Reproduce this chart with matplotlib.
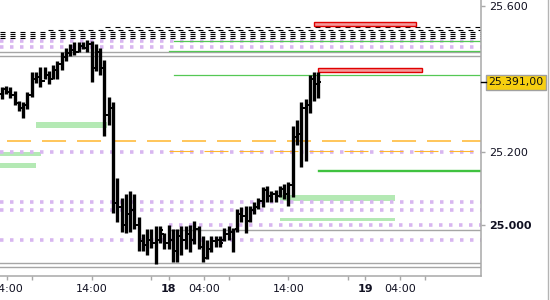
import numpy as np
import matplotlib
matplotlib.use("Agg")
import matplotlib.pyplot as plt
from matplotlib.lines import Line2D

plt.rcParams['lines.scale_dashes'] = False
plt.rcParams['font.family'] = 'DejaVu Sans'

# OHLC bars (bar index = position along the time axis)
highs = [25379, 25382, 25377, 25366, 25341, 25336, 25363, 25418, 25418, 25432,
         25432, 25421, 25437, 25448, 25473, 25486, 25495, 25500, 25500, 25500,
         25508, 25503, 25495, 25486, 25453, 25352, 25338, 25130, 25075, 25084,
         25092, 25084, 25023, 24974, 24988, 24988, 24996, 24996, 24979, 25001,
         24988, 24988, 24996, 24996, 25001, 25012, 24996, 24969, 24960, 24971,
         24971, 24971, 24993, 24996, 24993, 25045, 25048, 25051, 25051, 25062,
         25075, 25103, 25106, 25092, 25097, 25108, 25111, 25119, 25270, 25289,
         25336, 25344, 25412, 25418, 25418]
lows = [25344, 25358, 25349, 25330, 25311, 25292, 25317, 25352, 25390, 25379,
        25399, 25385, 25399, 25399, 25426, 25448, 25462, 25467, 25473, 25481,
        25473, 25393, 25421, 25412, 25245, 25275, 25034, 25007, 24982, 24979,
        24982, 24988, 24930, 24930, 24919, 24938, 24892, 24952, 24933, 24933,
        24900, 24900, 24919, 24933, 24927, 24947, 24933, 24900, 24906, 24927,
        24941, 24941, 24955, 24960, 24927, 24982, 25007, 24979, 25007, 25029,
        25043, 25048, 25062, 25064, 25062, 25078, 25070, 25051, 25078, 25218,
        25160, 25174, 25308, 25341, 25349]
opens = [25360, 25372, 25365, 25355, 25335, 25320, 25330, 25355, 25400, 25405,
         25395, 25410, 25400, 25425, 25440, 25460, 25470, 25480, 25475, 25490,
         25485, 25495, 25430, 25475, 25430, 25300, 25320, 25060, 25050, 25000,
         25030, 25040, 25000, 24955, 24945, 24960, 24950, 24960, 24975, 24950,
         24960, 24930, 24970, 24960, 24975, 24960, 24990, 24940, 24910, 24935,
         24955, 24960, 24960, 24975, 24980, 24990, 25030, 25025, 25010, 25040,
         25050, 25065, 25095, 25080, 25085, 25080, 25100, 25085, 25110, 25240,
         25250, 25320, 25330, 25400, 25385]
closes = [25372, 25365, 25355, 25335, 25320, 25330, 25355, 25400, 25405, 25395,
          25410, 25400, 25425, 25440, 25460, 25470, 25480, 25475, 25490, 25485,
          25495, 25420, 25475, 25430, 25300, 25320, 25060, 25050, 25000, 25030,
          25040, 25000, 24955, 24945, 24960, 24950, 24900, 24985, 24950, 24960,
          24930, 24970, 24960, 24975, 24960, 24990, 24940, 24910, 24935, 24955,
          24960, 24950, 24975, 24980, 24975, 25030, 25025, 25000, 25040, 25050,
          25065, 25095, 25080, 25085, 25075, 25100, 25085, 25110, 25240, 25250,
          25320, 25330, 25400, 25385, 25391]
last_price = 25391

# time axis
tick_pos = [1.25, 7, 21, 35, 39, 47.25, 53, 67, 81, 85, 93, 99]
tick_labels = ['04:00', '', '14:00', '', '18', '04:00', '', '14:00', '', '19', '04:00', '']
bold_labels = ['18', '19']
price_ticks = [25000, 25200, 25600]

# horizontal levels: (price, start bar)
lavender_levels = [(25505, -1), (25489, -1), (25201, -1), (25062, -1),
                   (25040, -1), (24999, 39.1), (24960, -1)]
gray_levels = [(25473, -1), (25464, -1), (24985, 39.1), (24897, -1), (24886, -1)]
thin_green_levels = [(25503, 40.3), (25478, 39.1), (25412, 40.3)]
green_level = (25149, 74.1)
orange_levels = [(25229, 1.24, 1.1), (25204, 39.1, 0.8)]
black_dashed = [(25543, 24.1), (25534, 10.8), (25528, -1), (25523, -1),
                (25517, -1), (25512, -1)]

# zones: (low, high, start bar, end bar)
green_zones = [(25267, 25281, 8.0, 24.6), (25188, 25201, -1, 9.2),
               (25155, 25171, -1, 8.0), (25067, 25081, 65.0, 91.9),
               (25010, 25020, 65.0, 91.9)]
red_zones = [(25544, 25557, 73.0, 96.8), (25418, 25431, 73.9, 98.2)]

x_left, x_right = -0.4, 112.0
y_low, y_high = 24860.3, 25616.4

fig = plt.figure(figsize=(5.5, 3.0), dpi=100)
ax = fig.add_axes([0, 24 / 300, 481 / 550, 276 / 300])
ax.set_xlim(x_left, x_right)
ax.set_ylim(y_low, y_high)

for p, x0 in black_dashed:
    ax.plot([max(x0, x_left), x_right], [p, p], color='black', lw=0.8,
            dashes=(3.6, 3.6), zorder=2)

for p, x0 in lavender_levels:
    ax.plot([max(x0, x_left), x_right], [p, p], color='#d8b6f0', lw=2.6,
            dashes=(2.5, 4.7), zorder=2)

for p, x0 in gray_levels:
    ax.plot([max(x0, x_left), x_right], [p, p], color='#a6a6a6', lw=1.0, zorder=2)

for p, x0 in thin_green_levels:
    ax.plot([x0, x_right], [p, p], color='#55c855', lw=0.9, zorder=2)
ax.plot([green_level[1], x_right], [green_level[0]] * 2, color='#40c240', lw=1.7, zorder=2)

for p, x0, w in orange_levels:
    ax.plot([x0, x_right], [p, p], color='#ffb62e', lw=w, dashes=(17.3, 7.9), zorder=2)

for lo, hi, x0, x1 in green_zones:
    x0 = max(x0, x_left)
    ax.barh((lo + hi) / 2, x1 - x0, left=x0, height=hi - lo, color='#b4e9b4',
            linewidth=0, zorder=1)

for lo, hi, x0, x1 in red_zones:
    ax.barh((lo + hi) / 2, x1 - x0, left=x0, height=hi - lo, color='#f59a9a',
            edgecolor='#e00000', linewidth=1.0, zorder=3)

# price bars
idx = np.arange(len(highs))
ax.vlines(idx, lows, highs, color='black', lw=2.4, zorder=4)
ax.hlines(opens, idx - 0.55, idx, color='black', lw=1.4, zorder=4)
ax.hlines(closes, idx, idx + 0.6, color='black', lw=1.4, zorder=4)

# axes styling
for s in ['top', 'left']:
    ax.spines[s].set_visible(False)
for s in ['bottom', 'right']:
    ax.spines[s].set_color('#a8a8a8')
    ax.spines[s].set_linewidth(1.1)

ax.yaxis.tick_right()
ax.set_yticks(price_ticks)
ax.set_yticklabels(['{:,}'.format(v).replace(',', '.') for v in price_ticks])
ax.tick_params(axis='y', length=3, width=1, color='#a8a8a8', pad=3,
               labelsize=8, labelcolor='#111122')
ax.set_xticks(tick_pos)
ax.set_xticklabels(tick_labels)
ax.tick_params(axis='x', length=3, width=1, color='#a8a8a8', pad=3,
               labelsize=8, labelcolor='#111122')
for lab in ax.get_xticklabels():
    if lab.get_text() in bold_labels:
        lab.set_fontweight('bold')
for lab in ax.get_yticklabels():
    if lab.get_text() == '25.000':
        lab.set_fontweight('bold')

# last price marker
ax.annotate('{:,.2f}'.format(last_price).replace(',', 'X').replace('.', ',').replace('X', '.'),
            xy=(1.0, last_price), xycoords=('axes fraction', 'data'),
            xytext=(5, 0), textcoords='offset points', va='center', ha='left',
            fontsize=7.8, color='#111111', annotation_clip=False,
            bbox=dict(boxstyle='square,pad=0.22', fc='#f7cf10', ec='#a0a0a0', lw=1))
ax.plot([x_right, x_right + 1.2], [last_price] * 2, color='black', lw=1,
        clip_on=False, zorder=5)

fig.add_artist(Line2D([548 / 550] * 2, [0, 1], color='#b4b4b4', lw=1))

fig.savefig('out.png', dpi=100)
